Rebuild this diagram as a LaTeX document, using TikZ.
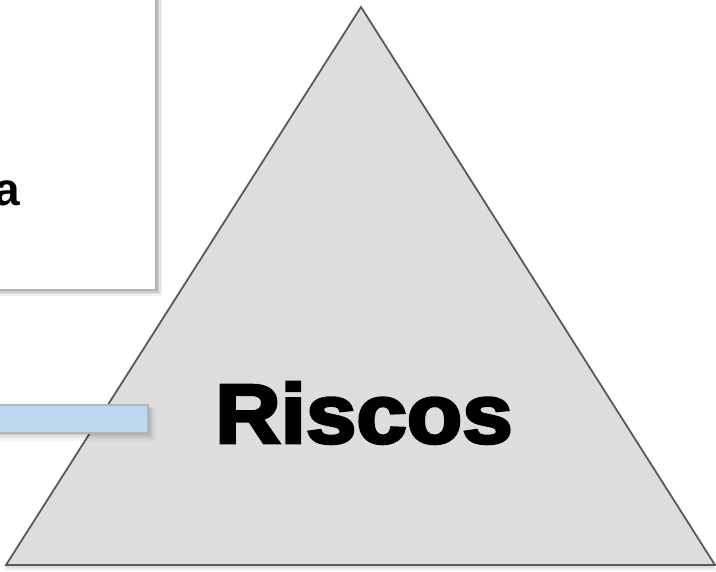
\documentclass[tikz,border=0pt]{standalone}
\usepackage{fontspec}
\setmainfont{Liberation Sans}
\newfontfamily\heavy{Liberation Sans Bold}[FakeBold=3.5]
\definecolor{trifill}{HTML}{DDDDDD}
\definecolor{triline}{HTML}{595959}
\definecolor{barfill}{HTML}{BDD7EE}
\definecolor{edgegray}{HTML}{B4B4B4}
\tikzset{
  boxframe/.style={fill=white, draw=edgegray, line width=1.5pt},
  barframe/.style={fill=barfill, draw=edgegray, line width=1.5pt},
  tri/.style={fill=trifill, draw=triline, line width=1.8pt, line join=miter},
}
\begin{document}
\begin{tikzpicture}[x=1pt,y=-1pt]
\useasboundingbox (0,0) rectangle (716,572);
\clip (0,0) rectangle (716,572);
% triangle shadow
\foreach \d/\o in {6/0.03,4.5/0.04,3/0.05,1.5/0.06}{
  \fill[black,opacity=\o] (361,7+\d) -- (715+\d*0.3,565+\d) -- (6-\d*0.3,565+\d) -- cycle;
}
\draw[tri] (361,7) -- (715,565) -- (6,565) -- cycle;
% top-left box shadow
\foreach \d/\o in {6/0.05,4.5/0.07,3/0.09,1.5/0.11}{
  \fill[black,opacity=\o] (-20,-20) rectangle (156+\d,290+\d);
}
\draw[boxframe] (-20,-20) rectangle (156,290);
\node[anchor=base west, inner sep=0pt, font=\bfseries\fontsize{46}{46}\selectfont] (a) at (-6,206) {a};
% bar shadow
\foreach \d/\o in {8/0.03,6/0.04,4/0.06,2/0.08}{
  \fill[black,opacity=\o] (-20,405+\d*0.5) rectangle (148+\d,433+\d);
}
\draw[barframe] (-20,405) rectangle (148,433);
% label
\node[anchor=base, inner sep=0pt, xscale=1.08, font=\heavy\fontsize{84}{84}\selectfont] (riscos) at (364,443) {Riscos};
\end{tikzpicture}
\end{document}
